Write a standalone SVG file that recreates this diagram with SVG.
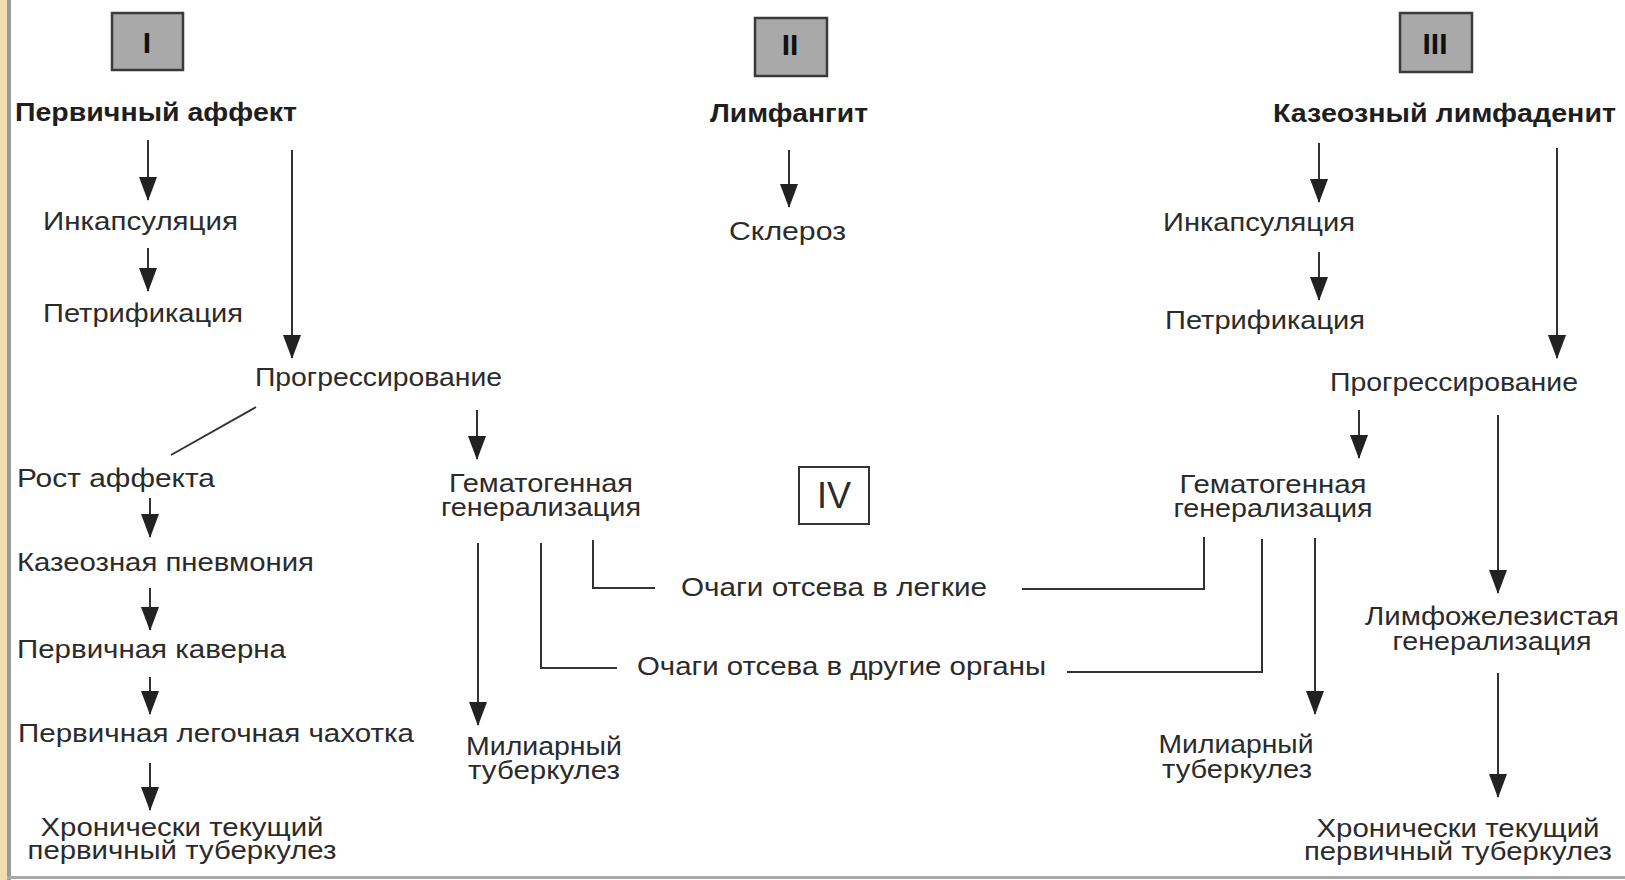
<svg xmlns="http://www.w3.org/2000/svg" width="1625" height="880" viewBox="0 0 1625 880">
<defs>
<style>
text{font-family:"Liberation Sans",Arial,sans-serif;fill:#2b2b2b;font-size:25px}
.b{font-weight:bold;fill:#1e1e1e}
.num{font-weight:bold;font-size:30px;fill:#111}
.c{text-anchor:middle}
.box{fill:#a9a9a9;stroke:#3a3a3a;stroke-width:2.5}
.ln{fill:none;stroke:#333;stroke-width:2}
.ar{fill:none;stroke:#333;stroke-width:2;marker-end:url(#ah)}
</style>
<marker id="ah" markerUnits="userSpaceOnUse" markerWidth="24" markerHeight="18" viewBox="0 0 24 18" refX="23" refY="9" orient="auto">
<path d="M0,0 L24,9 L0,18 z" fill="#222"/>
</marker>
</defs>
<rect x="0" y="0" width="1625" height="880" fill="#fff"/>
<rect x="0" y="0" width="7" height="880" fill="#f1ddb0"/>
<rect x="7" y="0" width="4" height="880" fill="#9a9a9a"/>
<rect x="7" y="876" width="1618" height="3" fill="#a8a8a8"/>

<g id="connectors">
<line class="ar" x1="148" y1="140" x2="148" y2="200"/>
<line class="ar" x1="148" y1="248" x2="148" y2="291"/>
<line class="ar" x1="292" y1="150" x2="292" y2="358"/>
<line class="ln" x1="256" y1="407" x2="171" y2="455"/>
<line class="ar" x1="150" y1="498" x2="150" y2="537"/>
<line class="ar" x1="150" y1="588" x2="150" y2="630"/>
<line class="ar" x1="150" y1="677" x2="150" y2="714"/>
<line class="ar" x1="150" y1="763" x2="150" y2="810"/>
<line class="ar" x1="477" y1="410" x2="477" y2="459"/>
<line class="ar" x1="478" y1="543" x2="478" y2="725"/>
<polyline class="ln" points="541,543 541,668 617,668"/>
<polyline class="ln" points="593,540 593,588 655,588"/>
<line class="ar" x1="789" y1="150" x2="789" y2="207"/>
<polyline class="ln" points="1022,589 1204,589 1204,537"/>
<polyline class="ln" points="1067,672 1262,672 1262,539"/>
<line class="ar" x1="1315" y1="538" x2="1315" y2="714"/>
<line class="ar" x1="1319" y1="143" x2="1319" y2="202"/>
<line class="ar" x1="1319" y1="252" x2="1319" y2="300"/>
<line class="ar" x1="1557" y1="148" x2="1557" y2="358"/>
<line class="ar" x1="1359" y1="410" x2="1359" y2="458"/>
<line class="ar" x1="1498" y1="415" x2="1498" y2="593"/>
<line class="ar" x1="1498" y1="673" x2="1498" y2="797"/>
</g>

<g id="box-I"><rect class="box" x="112" y="13" width="71" height="57"/><text class="num c" x="147" y="53">I</text></g>
<g id="box-II"><rect class="box" x="755" y="18" width="72" height="58"/><text class="num c" x="790" y="55">II</text></g>
<g id="box-III"><rect class="box" x="1400" y="13" width="72" height="59"/><text class="num c" x="1435" y="54">III</text></g>
<g id="box-IV"><rect x="799" y="467" width="70" height="57" fill="#fff" stroke="#333" stroke-width="2"/><text class="c" x="834" y="508" style="font-size:36px">IV</text></g>

<g id="n-perv-affekt"><text class="b" x="15" y="121" textLength="282" lengthAdjust="spacingAndGlyphs">Первичный аффект</text></g>
<g id="n-limfangit"><text class="b" x="710" y="122" textLength="158" lengthAdjust="spacingAndGlyphs">Лимфангит</text></g>
<g id="n-kaz-limfadenit"><text class="b" x="1273" y="122" textLength="343" lengthAdjust="spacingAndGlyphs">Казеозный лимфаденит</text></g>

<g id="n-inkaps-l"><text x="43" y="230" textLength="195" lengthAdjust="spacingAndGlyphs">Инкапсуляция</text></g>
<g id="n-petrif-l"><text x="43" y="322" textLength="200" lengthAdjust="spacingAndGlyphs">Петрификация</text></g>
<g id="n-progr-l"><text x="255" y="386" textLength="247" lengthAdjust="spacingAndGlyphs">Прогрессирование</text></g>
<g id="n-skleroz"><text x="729" y="240" textLength="117" lengthAdjust="spacingAndGlyphs">Склероз</text></g>
<g id="n-inkaps-r"><text x="1163" y="231" textLength="192" lengthAdjust="spacingAndGlyphs">Инкапсуляция</text></g>
<g id="n-petrif-r"><text x="1165" y="329" textLength="200" lengthAdjust="spacingAndGlyphs">Петрификация</text></g>
<g id="n-progr-r"><text x="1330" y="391" textLength="248" lengthAdjust="spacingAndGlyphs">Прогрессирование</text></g>

<g id="n-rost"><text x="17" y="487" textLength="198" lengthAdjust="spacingAndGlyphs">Рост аффекта</text></g>
<g id="n-kaz-pnev"><text x="17" y="571" textLength="297" lengthAdjust="spacingAndGlyphs">Казеозная пневмония</text></g>
<g id="n-kaverna"><text x="17" y="658" textLength="269" lengthAdjust="spacingAndGlyphs">Первичная каверна</text></g>
<g id="n-chahotka"><text x="18" y="742" textLength="396" lengthAdjust="spacingAndGlyphs">Первичная легочная чахотка</text></g>
<g id="n-hron-l"><text class="c" x="182" y="836" textLength="283" lengthAdjust="spacingAndGlyphs">Хронически текущий</text><text class="c" x="182" y="859" textLength="309" lengthAdjust="spacingAndGlyphs">первичный туберкулез</text></g>

<g id="n-gem-l"><text class="c" x="541" y="492" textLength="184" lengthAdjust="spacingAndGlyphs">Гематогенная</text><text class="c" x="541" y="516" textLength="200" lengthAdjust="spacingAndGlyphs">генерализация</text></g>
<g id="n-mil-l"><text class="c" x="544" y="755" textLength="156" lengthAdjust="spacingAndGlyphs">Милиарный</text><text class="c" x="544" y="779" textLength="152" lengthAdjust="spacingAndGlyphs">туберкулез</text></g>

<g id="n-ochagi-legkie"><text x="681" y="596" textLength="306" lengthAdjust="spacingAndGlyphs">Очаги отсева в легкие</text></g>
<g id="n-ochagi-organy"><text x="637" y="675" textLength="409" lengthAdjust="spacingAndGlyphs">Очаги отсева в другие органы</text></g>

<g id="n-gem-r"><text class="c" x="1273" y="493" textLength="187" lengthAdjust="spacingAndGlyphs">Гематогенная</text><text class="c" x="1273" y="517" textLength="199" lengthAdjust="spacingAndGlyphs">генерализация</text></g>
<g id="n-mil-r"><text class="c" x="1236" y="753" textLength="155" lengthAdjust="spacingAndGlyphs">Милиарный</text><text class="c" x="1237" y="778" textLength="150" lengthAdjust="spacingAndGlyphs">туберкулез</text></g>
<g id="n-limfozhel"><text class="c" x="1492" y="625" textLength="254" lengthAdjust="spacingAndGlyphs">Лимфожелезистая</text><text class="c" x="1492" y="650" textLength="199" lengthAdjust="spacingAndGlyphs">генерализация</text></g>
<g id="n-hron-r"><text class="c" x="1458" y="837" textLength="283" lengthAdjust="spacingAndGlyphs">Хронически текущий</text><text class="c" x="1458" y="860" textLength="308" lengthAdjust="spacingAndGlyphs">первичный туберкулез</text></g>
</svg>
